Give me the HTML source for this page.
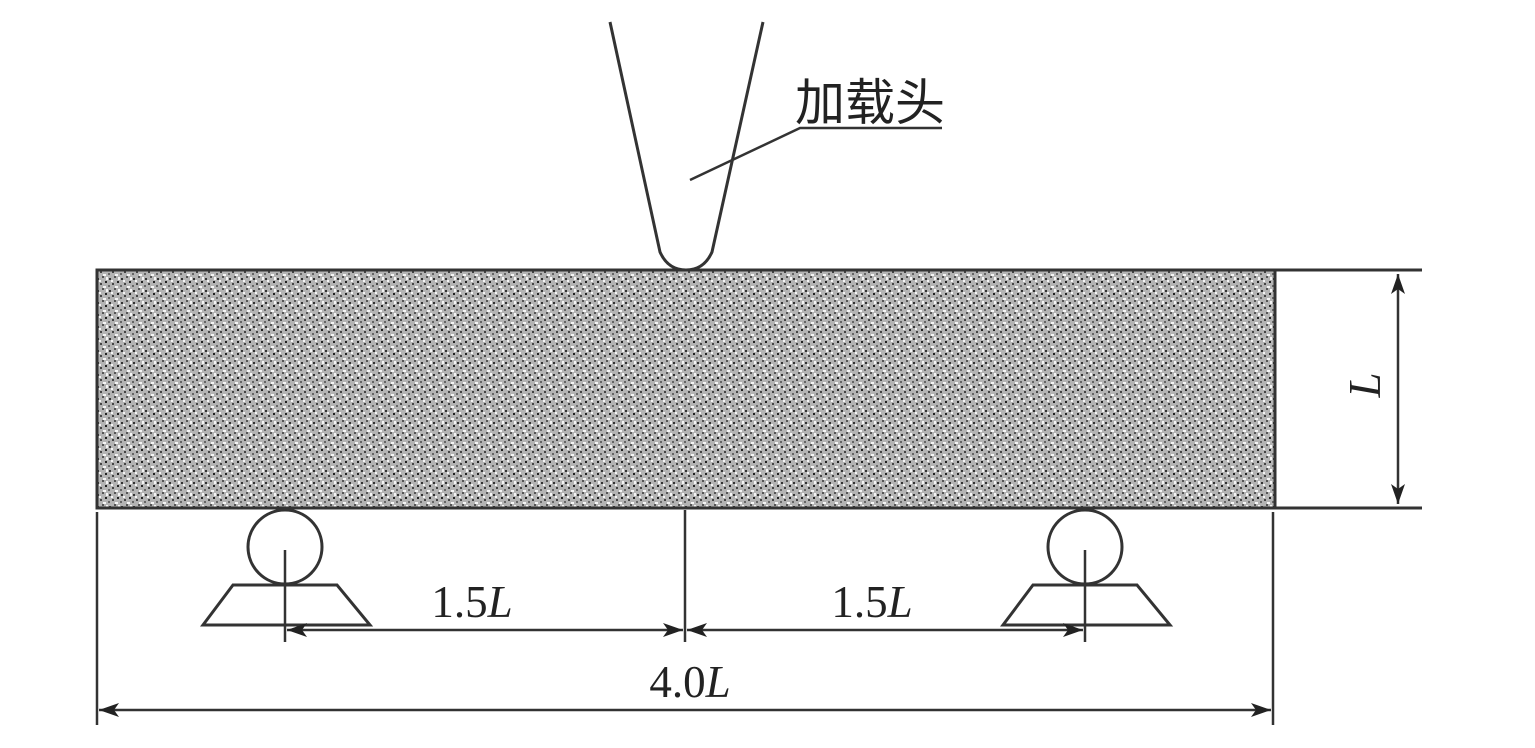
<!DOCTYPE html>
<html><head><meta charset="utf-8"><style>
html,body{margin:0;padding:0;background:#fff;}
svg{display:block}
</style></head><body>
<svg width="1535" height="748" viewBox="0 0 1535 748" xmlns="http://www.w3.org/2000/svg">
<defs>
<pattern id="sp" width="12" height="12" patternUnits="userSpaceOnUse">
<rect width="12" height="12" fill="#b4b4b4"/>
<rect x="1" y="2" width="2" height="2" fill="#333"/>
<rect x="6" y="0" width="2" height="2" fill="#555"/>
<rect x="9" y="5" width="2" height="2" fill="#222"/>
<rect x="4" y="7" width="2" height="2" fill="#444"/>
<rect x="0" y="9" width="2" height="2" fill="#666"/>
<rect x="7" y="10" width="3" height="2" fill="#f4f4f4"/>
<rect x="3" y="4" width="2" height="2" fill="#f4f4f4"/>
<rect x="10" y="1" width="2" height="3" fill="#f4f4f4"/>
</pattern>
<marker id="a" viewBox="0 0 20 14" refX="20" refY="7" markerWidth="20" markerHeight="14" markerUnits="userSpaceOnUse" orient="auto-start-reverse"><path d="M0,0 L20,7 L0,14 L5,7 Z" fill="#222"/></marker>
</defs>
<g stroke="#333" stroke-width="3" fill="none">
<rect x="97" y="270" width="1178" height="238" fill="url(#sp)" stroke="#333"/>
<line x1="1275" y1="270" x2="1422" y2="270"/>
<line x1="1275" y1="508" x2="1422" y2="508"/>
<path d="M610,22 L660,252 Q668,270 686,270 Q704,270 712,252 L763,22" fill="#fff"/>
<line x1="1398" y1="274" x2="1398" y2="504" stroke-width="2.5" marker-start="url(#a)" marker-end="url(#a)"/>
<polyline points="690,180 800,128 942,128" stroke-width="2.5"/>
<circle cx="285" cy="547" r="37" fill="#fff"/>
<circle cx="1085" cy="547" r="37" fill="#fff"/>
<polygon points="233,585 337,585 370,625 203,625" fill="#fff"/>
<polygon points="1033,585 1137,585 1170,625 1003,625" fill="#fff"/>
<line x1="285" y1="550" x2="285" y2="642" stroke-width="2.5"/>
<line x1="1085" y1="550" x2="1085" y2="642" stroke-width="2.5"/>
<line x1="685" y1="510" x2="685" y2="642" stroke-width="2.5"/>
<line x1="97" y1="512" x2="97" y2="725" stroke-width="2.5"/>
<line x1="1273" y1="512" x2="1273" y2="725" stroke-width="2.5"/>
<line x1="287" y1="630" x2="683" y2="630" stroke-width="2.5" marker-start="url(#a)" marker-end="url(#a)"/>
<line x1="687" y1="630" x2="1083" y2="630" stroke-width="2.5" marker-start="url(#a)" marker-end="url(#a)"/>
<line x1="99" y1="710" x2="1271" y2="710" stroke-width="2.5" marker-start="url(#a)" marker-end="url(#a)"/>
</g>
<g font-family="'Liberation Serif', serif" font-size="45" fill="#222">
<text x="795" y="120" font-family="'Liberation Sans','Noto Sans CJK SC',sans-serif" font-size="50">加载头</text>
<text x="472" y="617" text-anchor="middle">1.5<tspan font-style="italic">L</tspan></text>
<text x="872" y="617" text-anchor="middle">1.5<tspan font-style="italic">L</tspan></text>
<text x="690" y="697" text-anchor="middle">4.0<tspan font-style="italic">L</tspan></text>
<text transform="translate(1380,385) rotate(-90)" text-anchor="middle" font-style="italic">L</text>
</g>
</svg>
</body></html>
